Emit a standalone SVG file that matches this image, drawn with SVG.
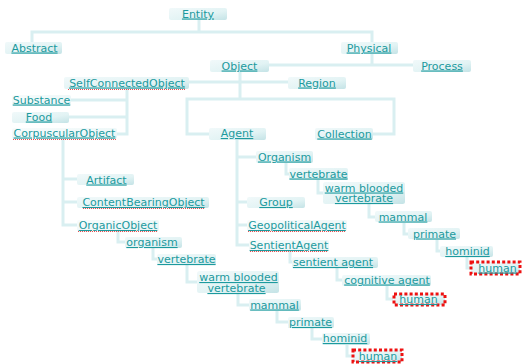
<svg xmlns="http://www.w3.org/2000/svg" width="522" height="364" viewBox="0 0 522 364">
  <defs>
    <linearGradient id="boxFill" x1="0" y1="0" x2="1" y2="1">
      <stop offset="0" stop-color="#f1f9fa"/>
      <stop offset="0.6" stop-color="#e2f3f4"/>
      <stop offset="1" stop-color="#c4e3e6"/>
    </linearGradient>
    <linearGradient id="faintFill" x1="0" y1="0" x2="1" y2="1">
      <stop offset="0" stop-color="#f8fcfc"/>
      <stop offset="1" stop-color="#e6f4f5"/>
    </linearGradient>
  </defs>
  <style>
    .box { fill: url(#boxFill); }
    .faint { fill: url(#faintFill); }
    .lbl { font-family: "DejaVu Sans", Verdana, sans-serif; font-size: 11px; fill: #1c9a9e; text-anchor: middle; text-decoration: underline; }
    .wire { fill: none; stroke: #d9eff1; stroke-width: 3; }
    .mark { fill: none; stroke: #ee1111; stroke-width: 3; stroke-dasharray: 3 2.2; }
    .spell { fill: none; stroke: #e85050; stroke-width: 1; stroke-dasharray: 1 1; }
  </style>
  <rect width="522" height="364" fill="#ffffff"/>

  <!-- connectors -->
  <g id="connectors" class="wire">
    <path d="M199,20 V32 M32,42 V32 H372 V42"/>
    <path d="M372,54 V65 M269,65 H413"/>
    <path d="M240,72 V99 M189,82 H288"/>
    <path d="M209,134 H187 V99 H394 V134 H373"/>
    <path d="M127,89 V134 H117 M71,100 H127 M69,117 H127"/>
    <path d="M63,139 V225 H77 M63,179 H77 M63,202 H77"/>
    <path d="M118,231 V242 H125 M153,248 V259 H157 M187,265 V282 H197 M238,293 V305 H249 M277,311 V322 H288 M312,328 V339 H322 M347,345 V356 H352"/>
    <path d="M237,140 V245 H249 M237,157 H256 M237,202 H247 M237,225 H247"/>
    <path d="M286,163 V174 H289 M318,180 V193 H323 M369,204 V217 H375 M404,223 V234 H408 M437,240 V251 H440 M467,257 V268 H470"/>
    <path d="M290,251 V262 H292 M337,268 V280 H342 M387,286 V299 H393"/>
  </g>

  <g id="entity"><rect class="box" x="169" y="8" width="58" height="12" rx="2"/><text class="lbl" x="198" y="17.5">Entity</text></g>
  <g id="abstract"><rect class="box" x="5" y="42" width="57" height="12" rx="2"/><text class="lbl" x="34.5" y="51.5">Abstract</text></g>
  <g id="physical"><rect class="box" x="341" y="42" width="57" height="12" rx="2"/><text class="lbl" x="369" y="51.5">Physical</text></g>
  <g id="object"><rect class="box" x="210" y="60" width="59" height="12" rx="2"/><text class="lbl" x="239.5" y="69.5">Object</text></g>
  <g id="process"><rect class="box" x="413" y="60" width="58" height="12" rx="2"/><text class="lbl" x="442" y="69.5">Process</text></g>
  <g id="self-connected-object"><rect class="box" x="64" y="77" width="125" height="12" rx="2"/><text class="lbl" x="127" y="86.5">SelfConnectedObject</text><path class="spell" d="M68,89.5 H186"/></g>
  <g id="region"><rect class="box" x="288" y="77" width="58" height="12" rx="2"/><text class="lbl" x="317" y="86.5">Region</text></g>
  <g id="substance"><rect class="faint" x="12" y="95" width="59" height="11" rx="2"/><text class="lbl" x="41.5" y="103.5">Substance</text></g>
  <g id="food"><rect class="box" x="12" y="112" width="57" height="11" rx="2"/><text class="lbl" x="39" y="120.5">Food</text></g>
  <g id="corpuscular-object"><rect class="faint" x="12" y="128" width="105" height="11" rx="2"/><text class="lbl" x="64.5" y="136.5">CorpuscularObject</text><path class="spell" d="M13,139.5 H116"/></g>
  <g id="agent"><rect class="box" x="209" y="128" width="57" height="12" rx="2"/><text class="lbl" x="237" y="137">Agent</text></g>
  <g id="collection"><rect class="box" x="315" y="128" width="58" height="12" rx="2"/><text class="lbl" x="344.5" y="137.5">Collection</text></g>
  <g id="organism-agent"><rect class="box" x="256" y="151" width="57" height="12" rx="2"/><text class="lbl" x="284.5" y="160.5">Organism</text></g>
  <g id="vertebrate-a"><rect class="box" x="289" y="168" width="59" height="12" rx="2"/><text class="lbl" x="318.5" y="177.5">vertebrate</text></g>
  <g id="artifact"><rect class="box" x="77" y="174" width="57" height="11" rx="2"/><text class="lbl" x="106.5" y="183.5">Artifact</text></g>
  <g id="warm-blooded-a"><rect class="box" x="323" y="182" width="82" height="22" rx="2.5"/><text class="lbl" x="364" y="191.5">warm blooded</text><text class="lbl" x="364" y="202">vertebrate</text></g>
  <g id="group"><rect class="box" x="247" y="197" width="58" height="11" rx="2"/><text class="lbl" x="276" y="206">Group</text></g>
  <g id="content-bearing-object"><rect class="box" x="77" y="197" width="132" height="11" rx="2"/><text class="lbl" x="143.5" y="206">ContentBearingObject</text><path class="spell" d="M83,208.5 H204"/></g>
  <g id="mammal-a"><rect class="box" x="375" y="211" width="57" height="11" rx="2"/><text class="lbl" x="403" y="220.5">mammal</text></g>
  <g id="organic-object"><rect class="faint" x="77" y="220" width="82" height="11" rx="2"/><text class="lbl" x="118" y="229">OrganicObject</text><path class="spell" d="M78,231.5 H158"/></g>
  <g id="geopolitical-agent"><rect class="faint" x="247" y="220" width="100" height="11" rx="2"/><text class="lbl" x="297" y="229">GeopoliticalAgent</text><path class="spell" d="M248,231.5 H346"/></g>
  <g id="primate-a"><rect class="box" x="408" y="228" width="52" height="11" rx="2"/><text class="lbl" x="434.5" y="237.5">primate</text></g>
  <g id="organism-b"><rect class="box" x="125" y="237" width="57" height="11" rx="2"/><text class="lbl" x="152" y="246">organism</text></g>
  <g id="sentient-agent-class"><rect class="faint" x="249" y="240" width="80" height="11" rx="2"/><text class="lbl" x="289" y="249">SentientAgent</text><path class="spell" d="M250,251.5 H328"/></g>
  <g id="hominid-a"><rect class="box" x="440" y="246" width="53" height="11" rx="2"/><text class="lbl" x="467.5" y="255">hominid</text></g>
  <g id="vertebrate-b"><rect class="box" x="157" y="254" width="59" height="11" rx="2"/><text class="lbl" x="186.5" y="263">vertebrate</text></g>
  <g id="sentient-agent"><rect class="box" x="292" y="257" width="86" height="11" rx="2"/><text class="lbl" x="333" y="266">sentient agent</text></g>
  <g id="human-a"><rect class="box" x="471" y="262" width="49" height="12" rx="1"/><rect class="mark" x="471" y="262" width="49" height="12"/><text class="lbl" x="497.5" y="271.5">human</text></g>
  <g id="warm-blooded-b"><rect class="box" x="197" y="271" width="82" height="22" rx="2.5"/><text class="lbl" x="238.5" y="281">warm blooded</text><text class="lbl" x="236.5" y="292">vertebrate</text></g>
  <g id="cognitive-agent"><rect class="box" x="342" y="275" width="89" height="11" rx="2"/><text class="lbl" x="387" y="283.5">cognitive agent</text></g>
  <g id="human-b"><rect class="box" x="394" y="294" width="51" height="11" rx="1"/><rect class="mark" x="394" y="294" width="51" height="11"/><text class="lbl" x="418.5" y="303">human</text></g>
  <g id="mammal-b"><rect class="box" x="249" y="299" width="52" height="12" rx="2"/><text class="lbl" x="274.5" y="308.5">mammal</text></g>
  <g id="primate-b"><rect class="box" x="288" y="317" width="46" height="11" rx="2"/><text class="lbl" x="310.5" y="326">primate</text></g>
  <g id="hominid-b"><rect class="box" x="322" y="333" width="48" height="12" rx="2"/><text class="lbl" x="345" y="342">hominid</text></g>
  <g id="human-c"><rect class="box" x="353" y="350" width="49" height="12" rx="1"/><rect class="mark" x="353" y="350" width="49" height="12"/><text class="lbl" x="378" y="360">human</text></g>
</svg>
